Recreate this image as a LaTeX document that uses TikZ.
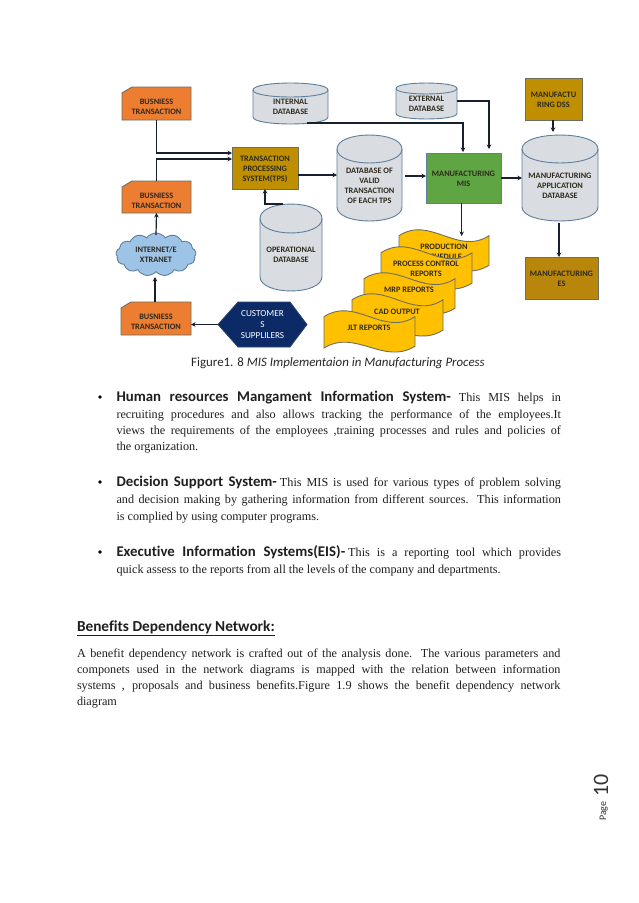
\documentclass[tikz,border=0pt]{standalone}
\usepackage{fontspec}
\setmainfont{Liberation Serif}
\newfontfamily\calf[Ligatures=NoCommon]{Carlito}
\usetikzlibrary{arrows.meta,shapes.symbols}
\definecolor{orangefill}{HTML}{ED7D31}
\definecolor{goldfill}{HTML}{BF8F00}
\definecolor{esfill}{HTML}{B8860B}
\definecolor{greenfill}{HTML}{5FA544}
\definecolor{cylfill}{HTML}{D9DCE0}
\definecolor{cylline}{HTML}{5F7F9E}
\definecolor{cloudfill}{HTML}{9DC3E6}
\definecolor{hexfill}{HTML}{0B2A66}
\definecolor{docfill}{HTML}{FFC000}
\definecolor{boxline}{HTML}{6E6E5E}
\definecolor{lbl}{HTML}{2E2A1E}
\definecolor{connc}{HTML}{16202E}
\tikzset{
  lab/.style={inner sep=0pt,outer sep=0pt,align=center,text=lbl,font=\calf\bfseries\fontsize{8.3}{10}\selectfont},
  orangebox/.style={fill=orangefill,draw=boxline,line width=.9pt},
  goldbox/.style={fill=goldfill,draw=boxline,line width=.9pt},
  cylbox/.style={fill=cylfill,draw=cylline,line width=.9pt},
  docbox/.style={fill=docfill,draw=boxline,line width=.9pt},
  conn/.style={draw=connc,line width=1.2pt,-{Stealth[length=4.5pt,width=4.5pt]}},
  body/.style={inner sep=0pt,outer sep=0pt,anchor=base west,font=\fontsize{12.2}{14}\selectfont,text=black!88},
  bulletmark/.style={circle,fill=black,inner sep=0pt,minimum size=3.8pt}
}
\newcommand\lbltxt[2]{\raisebox{\dimexpr #1pt-3.1pt\relax}[0pt][0pt]{\begin{tabular}{@{}c@{}}#2\end{tabular}}}
\newcommand\bnode[7][]{%
  \pgfmathsetmacro\bw{#5-#3}\pgfmathsetmacro\bh{#6-#4}%
  \pgfmathsetmacro\bcx{(#5+#3)/2}\pgfmathsetmacro\bcy{(#6+#4)/2}%
  \node[lab,minimum width=\bw pt,minimum height=\bh pt,#1] (#2) at (\bcx,\bcy) {#7};}
\newcommand\btnode[6]{% name x1 y1 x2 y2 text
  \path[orangebox] (#2,#3+6) -- (#2+10,#3) -- (#4,#3) -- (#4,#5) -- (#2,#5) -- cycle;
  \bnode{#1}{#2}{#3}{#4}{#5}{\lbltxt{-3}{#6}}}
\newcommand\cylnode[8]{% name x1 y1 x2 y2 ry d text
  \path[cylbox] (#2,#3+#6) -- (#2,#5-#6) .. controls (#2,#5+.33*#6) and (#4,#5+.33*#6) .. (#4,#5-#6)
     -- (#4,#3+#6) .. controls (#4,#3-.33*#6) and (#2,#3-.33*#6) .. cycle;
  \path[draw=cylline,line width=.9pt] (#2,#3+#6) .. controls (#2,#3+2.33*#6) and (#4,#3+2.33*#6) .. (#4,#3+#6);
  \bnode{#1}{#2}{#3}{#4}{#5}{\lbltxt{#7}{#8}}}
\newcommand\docnode[8]{% name x y w h lx ly text
  \path[docbox] (#2,#3+.135*#5) .. controls (#2+.35*#4,#3-.35*#5) and (#2+.65*#4,#3+.62*#5) .. (#2+#4,#3+.135*#5)
     -- (#2+#4,#3+.84*#5) .. controls (#2+.65*#4,#3+1.3*#5) and (#2+.35*#4,#3+.42*#5) .. (#2,#3+.88*#5) -- cycle;
  \node[lab] (#1) at (#6,#7) {#8};}
\newcommand\txtline[5]{\node[body] (#1) at (#2,#3) {\hbox to #4pt{#5}};}
\newcommand\txtlast[4]{\node[body] (#1) at (#2,#3) {#4};}
\newcommand\leadin[1]{{\calf\bfseries\fontsize{14.8}{16}\selectfont #1}}
\begin{document}
\begin{tikzpicture}[x=1pt,y=-1pt]
\useasboundingbox[fill=white] (0,0) rectangle (638,903);

% shapes
\btnode{bta}{122}{87}{191}{120}{BUSNIESS\\TRANSACTION}
\btnode{btb}{122}{181}{191}{213}{BUSNIESS\\TRANSACTION}
\btnode{btc}{121}{302}{191}{335}{BUSNIESS\\TRANSACTION}
\cylnode{internal}{253}{83}{328}{124}{7}{-3}{INTERNAL\\DATABASE}
\cylnode{external}{396}{83}{457}{119}{5.5}{-2}{EXTERNAL\\DATABASE}
\cylnode{operational}{260}{204}{322}{291}{14.5}{-7}{OPERATIONAL\\DATABASE}
\cylnode{valid}{337}{135}{402}{221}{14}{-7}{DATABASE OF\\VALID\\TRANSACTION\\OF EACH TPS}
\cylnode{appdb}{522}{135}{598}{221}{14}{-7}{MANUFACTURING\\APPLICATION\\DATABASE}
\bnode[goldbox]{tps}{232}{147}{298}{189}{\lbltxt{0}{TRANSACTION\\PROCESSING\\SYSTEM(TPS)}}
\bnode[fill=greenfill,draw=cylline,line width=.9pt]{mis}{426}{153}{501}{203}{\lbltxt{0}{MANUFACTURING\\MIS}}
\bnode[goldbox]{dss}{525}{78}{582}{120}{\lbltxt{0}{MANUFACTU\\RING DSS}}
\bnode[fill=esfill,draw=boxline,line width=.9pt]{es}{525}{257}{598}{299}{\lbltxt{0}{MANUFACTURING\\ES}}
\node[lab,cloud,cloud puffs=13,cloud puff arc=110,aspect=1.9,minimum width=80pt,minimum height=43pt,fill=cloudfill,draw=cylline,line width=.9pt] (cloudnet) at (156,254.5) {INTERNET/E\\XTRANET};
\path[fill=hexfill,draw=hexfill!70!gray,line width=.8pt] (218,324.5) -- (238,302) -- (290,302) -- (307,324.5) -- (290,347) -- (238,347) -- cycle;
\bnode[text=white,font=\calf\fontsize{9.2}{11}\selectfont]{customers}{218}{302}{307}{347}{CUSTOMER\\S\\SUPPLILERS}

\docnode{production}{399}{230}{90}{42}{444}{252}{PRODUCTION\\SCHEDULE}
\docnode{process}{381}{247}{91}{43}{426}{269.3}{PROCESS CONTROL\\REPORTS}
\docnode{mrp}{364}{273}{91}{42}{409}{290}{MRP REPORTS}
\docnode{cad}{352}{294}{91}{43}{397}{311.7}{CAD OUTPUT}
\docnode{jlt}{324}{311}{91}{42}{369}{328}{JLT REPORTS}

% connectors
\coordinate (jointa) at (0,153);
\coordinate (jointb) at (0,159);
\draw[conn] (bta.south) |- (tps.west |- jointa);
\draw[conn] (btb.north) |- (tps.west |- jointb);
\draw[conn] (tps.east |- 0,175) -- (valid.west |- 0,175);
\draw[conn] (283,204) -| (tps.south -| 265,0);
\draw[conn,line width=1.3pt] (307,123) -| (463,152);
\draw[conn] (external.east) -| (489,149);
\draw[conn] (405,176) -- (mis.west |- 0,176);
\draw[conn] (mis.east |- 0,178) -- (appdb.west |- 0,178);
\draw[conn] (553,120) -- (553,132);
\draw[conn] (461.7,203) -- (461.7,236);
\draw[conn] (559,223) -- (es.north -| 559,0);
\draw[conn] (156,235) -- (btb.south);
\draw[conn] (155,302) -- (155,277);
\draw[conn] (customers.west) -- (btc.east |- customers.west);

% caption
\node[inner sep=0pt,anchor=base west,font=\calf\fontsize{12.9}{14}\selectfont,text=black!85] (caption) at (191,366) {Figure1. 8 \textit{MIS Implementaion in Manufacturing Process}};

% bullets
\node[bulletmark] (bulleta) at (100,397) {};
\node[bulletmark] (bulletb) at (100,482) {};
\node[bulletmark] (bulletc) at (100,552) {};

% paragraph 1
\txtline{pa}{116.5}{401}{444.5}{\leadin{Human resources Mangament Information System-} This MIS helps in}
\txtline{pb}{116.5}{418}{444.5}{recruiting procedures and also allows tracking the performance of the employees.It}
\txtline{pc}{116.5}{434}{444.5}{views the requirements of the employees ,training processes and rules and policies of}
\txtlast{pd}{116.5}{450}{the organization.}
% paragraph 2
\txtline{qa}{116.5}{486}{444.5}{\leadin{Decision Support System-}\kern3pt This MIS is used for various types of problem solving}
\txtline{qb}{116.5}{503}{444.5}{and decision making by gathering information from different sources. This information}
\txtlast{qc}{116.5}{520}{is complied by using computer programs.}
% paragraph 3
\txtline{ra}{116.5}{556}{444.5}{\leadin{Executive Information Systems(EIS)-}\kern3pt This is a reporting tool which provides}
\txtlast{rb}{116.5}{573}{quick assess to the reports from all the levels of the company and departments.}
% heading
\node[body,font=\calf\bfseries\fontsize{15.3}{16}\selectfont] (heading) at (77,631) {\underline{Benefits Dependency Network:}};
% paragraph 4
\txtline{sa}{77}{657}{483.5}{A benefit dependency network is crafted out of the analysis done. The various parameters and}
\txtline{sb}{77}{673}{483.5}{componets used in the network diagrams is mapped with the relation between information}
\txtline{sc}{77}{689}{483.5}{systems , proposals and business benefits.Figure 1.9 shows the benefit dependency network}
\txtlast{sd}{77}{705}{diagram}
% page number
\node[inner sep=0pt,anchor=base west,rotate=90,font=\calf\fontsize{10}{12}\selectfont,text=black!80] (pagelabel) at (606,821) {Page};
\node[inner sep=0pt,anchor=base west,rotate=90,font=\calf\fontsize{22}{24}\selectfont,text=black!80] (pagenum) at (608,797) {10};
\end{tikzpicture}
\end{document}
